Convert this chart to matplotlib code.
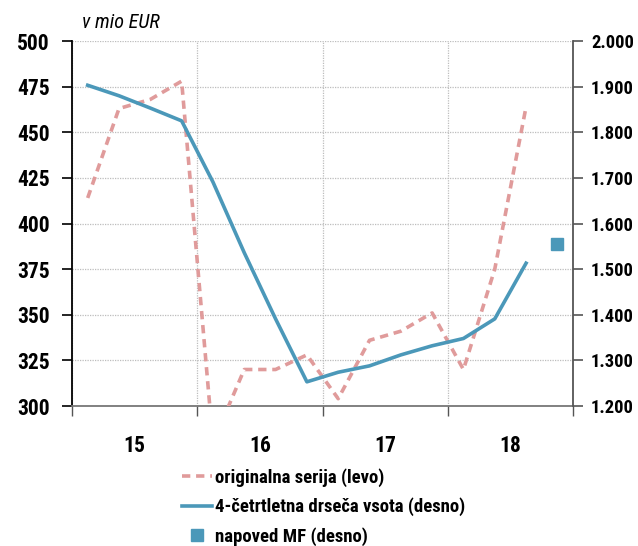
import matplotlib
matplotlib.use("Agg")
import matplotlib.pyplot as plt
from matplotlib.lines import Line2D
from matplotlib.ticker import FixedLocator, NullFormatter, FixedFormatter

plt.rcParams['font.family'] = ['Roboto Condensed', 'Liberation Sans Narrow',
                               'DejaVu Sans Condensed', 'DejaVu Sans']
plt.rcParams['font.stretch'] = 'condensed'

# quarterly data 2015Q1 .. 2018Q3, forecast point 2018Q4
quarters = ["15Q1", "15Q2", "15Q3", "15Q4", "16Q1", "16Q2", "16Q3", "16Q4",
            "17Q1", "17Q2", "17Q3", "17Q4", "18Q1", "18Q2", "18Q3", "18Q4"]
original = [414, 463, 468, 478, 280, 320, 320, 328,
            304, 336, 341, 351, 320, 375, 464]
rolling_sum = [1903, 1880, 1853, 1825, 1691, 1536, 1391, 1253,
               1274, 1288, 1312, 1332, 1348, 1391, 1513]
forecast_value = 1556
year_labels = ["15", "16", "17", "18"]

x_orig = list(range(len(original)))
x_roll = list(range(len(rolling_sum)))
x_fc = len(quarters) - 1

pink = "#E09B9B"
blue = "#4B98B9"
dash = (2.3, 1.6)

fig = plt.figure(figsize=(6.38, 5.46), dpi=100)
ax = fig.add_axes([0.1129, 0.2564, 0.7853, 0.6685])
ax2 = ax.twinx()

ax.plot(x_orig, original, color=pink, lw=2.6, dashes=dash, zorder=3)
ax2.plot(x_roll, rolling_sum, color=blue, lw=2.6, zorder=3)
ax2.plot([x_fc], [forecast_value], marker="s", ms=8, color=blue, ls="none")

ax.set_xlim(-0.5, len(quarters) - 0.5)
ax.set_ylim(300, 500)
ax2.set_ylim(1200, 2000)
ax.set_yticks([300, 325, 350, 375, 400, 425, 450, 475, 500])
ax2.set_yticks([1200, 1300, 1400, 1500, 1600, 1700, 1800, 1900, 2000])
ax2.set_yticklabels([f"{v // 1000}.{v % 1000:03d}" for v in ax2.get_yticks().astype(int)])

# year boundaries as major ticks, year labels centred on minor ticks
ax.xaxis.set_major_locator(FixedLocator([-0.5, 3.5, 7.5, 11.5, 15.5]))
ax.xaxis.set_major_formatter(NullFormatter())
ax.xaxis.set_minor_locator(FixedLocator([1.5, 5.5, 9.5, 13.5]))
ax.xaxis.set_minor_formatter(FixedFormatter(year_labels))
ax.tick_params(axis="x", which="minor", length=0, pad=21)
ax.tick_params(axis="x", which="major", length=7, color="#555555", width=1)

for lab in ax.get_yticklabels() + ax.get_xticklabels(minor=True):
    lab.set_fontsize(15.5)
    lab.set_fontweight("bold")
for lab in ax2.get_yticklabels():
    lab.set_fontsize(13.3)
    lab.set_fontweight("bold")
ax.tick_params(axis="y", length=7, width=1.2, color="black", pad=9)
ax2.tick_params(axis="y", length=7, width=1.2, color="#555555", pad=6)

ax.grid(True, axis="both", which="major", color="#BDBDBD", lw=0.9, ls=(0, (1, 1)))
ax.set_axisbelow(True)

for a in (ax, ax2):
    a.spines["top"].set_visible(False)
ax.spines["left"].set_color("black")
ax.spines["left"].set_linewidth(1.3)
ax2.spines["left"].set_visible(False)
ax2.spines["right"].set_color("#555555")
ax2.spines["right"].set_linewidth(1.3)
ax.spines["bottom"].set_color("#777777")
ax.spines["bottom"].set_linewidth(1.3)
ax2.spines["bottom"].set_visible(False)
ax.spines["right"].set_visible(False)

fig.text(0.129, 0.958, "v mio EUR", fontsize=14.5, style="italic", ha="left", va="center")

handles = [
    Line2D([], [], color=pink, lw=2.6, dashes=dash),
    Line2D([], [], color=blue, lw=2.6),
    Line2D([], [], color=blue, marker="s", ms=8, ls="none"),
]
labels = ["originalna serija (levo)", "4-četrtletna drseča vsota (desno)", "napoved MF (desno)"]
fig.legend(handles, labels, loc="upper left", bbox_to_anchor=(0.274, 0.157),
           frameon=False, prop=dict(size=13.5, weight="bold", stretch="condensed"),
           handlelength=1.6, handletextpad=0.15, labelspacing=0.58, borderaxespad=0)

fig.savefig("out.png", dpi=100)
